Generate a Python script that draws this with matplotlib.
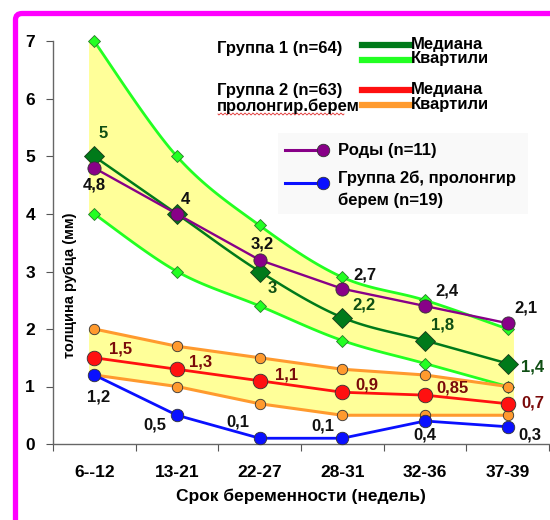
import numpy as np
import matplotlib
matplotlib.use("Agg")
import matplotlib.pyplot as plt
from matplotlib.patches import FancyBboxPatch
from matplotlib.lines import Line2D

plt.rcParams['font.family'] = ['Liberation Sans', 'DejaVu Sans']

categories = ["6--12", "13-21", "22-27", "28-31", "32-36", "37-39"]

g1_median = [5, 4, 3, 2.2, 1.8, 1.4]
g1_q_upper = [7, 5, 3.8, 2.9, 2.5, 2.0]
g1_q_lower = [4, 3, 2.4, 1.8, 1.4, 1.0]

g2_median = [1.5, 1.3, 1.1, 0.9, 0.85, 0.7]
g2_q_upper = [2.0, 1.7, 1.5, 1.3, 1.2, 1.0]
g2_q_lower = [1.2, 1.0, 0.7, 0.5, 0.5, 0.5]

births = [4.8, 4.0, 3.2, 2.7, 2.4, 2.1]
g2b = [1.2, 0.5, 0.1, 0.1, 0.4, 0.3]

yticks = [0, 1, 2, 3, 4, 5, 6, 7]

C_DKGREEN = '#007a1a'
C_LTGREEN = '#22ff22'
C_RED = '#ff1010'
C_ORANGE = '#ff9a2e'
C_PURPLE = '#880088'
C_BLUE = '#0a10ff'
C_FILL = '#ffff99'
C_LBL_GREEN = '#0f4f14'
C_LBL_RED = '#7a0a0a'


def smooth(x, y, n=24):
    """Bezier smoothing through the points (Catmull-Rom control points)."""
    x = np.asarray(x, float)
    y = np.asarray(y, float)
    px = np.concatenate([[x[0]], x, [x[-1]]])
    py = np.concatenate([[y[0]], y, [y[-1]]])
    xs, ys = [], []
    t = np.linspace(0, 1, n)
    for i in range(1, len(px) - 2):
        p0 = np.array([px[i], py[i]])
        p3 = np.array([px[i + 1], py[i + 1]])
        c1 = p0 + (np.array([px[i + 1], py[i + 1]]) - np.array([px[i - 1], py[i - 1]])) / 6
        c2 = p3 - (np.array([px[i + 2], py[i + 2]]) - np.array([px[i], py[i]])) / 6
        b = ((1 - t)[:, None] ** 3) * p0 + 3 * ((1 - t) ** 2 * t)[:, None] * c1 \
            + 3 * ((1 - t) * t ** 2)[:, None] * c2 + (t ** 3)[:, None] * p3
        if i > 1:
            b = b[1:]
        xs.append(b[:, 0])
        ys.append(b[:, 1])
    return np.concatenate(xs), np.concatenate(ys)


def straight(x, y):
    return np.asarray(x, float), np.asarray(y, float)


fig = plt.figure(figsize=(5.5, 5.2), dpi=100)
ax = fig.add_axes([53 / 550, 76 / 520, 496 / 550, 402.5 / 520])

x = np.arange(len(categories))


def band(upper, lower, curve):
    xu, yu = curve(x, upper)
    xl, yl = curve(x, lower)
    ext = 0.07
    xu = np.concatenate([[xu[0] - ext], xu, [xu[-1] + ext]])
    yu = np.concatenate([[yu[0]], yu, [yu[-1]]])
    yl_i = np.interp(xu, np.concatenate([[xl[0] - ext], xl, [xl[-1] + ext]]),
                     np.concatenate([[yl[0]], yl, [yl[-1]]]))
    ax.fill_between(xu, yl_i, yu, color=C_FILL, lw=0, zorder=1)


band(g1_q_upper, g1_q_lower, smooth)
band(g2_q_upper, g2_q_lower, straight)


def series(vals, color, lw, marker, ms, z, curve, mec='#333333'):
    sx, sy = curve(x, vals)
    ax.plot(sx, sy, color=color, lw=lw, zorder=z, solid_capstyle='round', clip_on=False)
    ax.plot(x, vals, ls='none', marker=marker, ms=ms, mfc=color, mec=mec,
            mew=0.6, zorder=z + 0.5, clip_on=False)


series(g1_q_upper, C_LTGREEN, 2.0, 'D', 6.5, 3, smooth, mec='#2a7a2a')
series(g1_q_lower, C_LTGREEN, 2.0, 'D', 6.5, 3, smooth, mec='#2a7a2a')
series(g2_q_upper, C_ORANGE, 2.2, 'o', 7.5, 3, straight)
series(g2_q_lower, C_ORANGE, 2.2, 'o', 7.5, 3, straight)
series(g1_median, C_DKGREEN, 1.8, 'D', 10, 4, smooth, mec='#1a3a1a')
series(g2_median, C_RED, 2.0, 'o', 10.5, 4, straight)
series(births, C_PURPLE, 1.7, 'o', 9.5, 5, straight)
series(g2b, C_BLUE, 2.0, 'o', 9, 5, straight)

# value labels, offsets given in pixels (right, down)
lbl_font = dict(fontsize=12, fontweight='bold', ha='center', va='center', zorder=8)


def vlabel(i, v, text, dx, dy, color):
    ax.annotate(text, (i, v), xytext=(dx * 0.72, -dy * 0.72),
                textcoords='offset points', color=color, **lbl_font)


def fmt(v):
    return f"{v:g}".replace('.', ',')


for i, (dx, dy) in enumerate([(9, -23), (None, None), (13, 17), (22, -12), (18, -15), (25, 3)]):
    if dx is not None:
        vlabel(i, g1_median[i], fmt(g1_median[i]), dx, dy, C_LBL_GREEN)

for i, (dx, dy) in enumerate([(0, 17), (8, -15), (3, -16), (23, -14), (22, -15), (18, -15)]):
    vlabel(i, births[i], fmt(births[i]), dx, dy, '#111111')

for i, (dx, dy) in enumerate([(26, -9), (24, -7), (27, -6), (25, -7), (28, -7), (25, -1)]):
    vlabel(i, g2_median[i], fmt(g2_median[i]), dx, dy, C_LBL_RED)

for i, (dx, dy) in enumerate([(4, 22), (-22, 10), (-22, -16), (-19, -12), (0, 14), (22, 8)]):
    vlabel(i, g2b[i], fmt(g2b[i]), dx, dy, '#111111')

ax.set_xlim(-0.5, len(categories) - 0.5)
ax.set_ylim(0, 7)
ax.set_yticks(yticks)
ax.set_yticklabels([str(t) for t in yticks], fontsize=12.5, fontweight='bold')
ax.set_xticks(np.arange(len(categories) + 1) - 0.5)
ax.set_xticklabels([])
ax.set_xticks(x, minor=True)
ax.set_xticklabels(categories, minor=True, fontsize=12.5, fontweight='bold')
ax.tick_params(axis='x', which='minor', length=0, pad=15)
ax.tick_params(axis='x', which='major', length=5, direction='out', color='#555555')
ax.tick_params(axis='y', length=5, direction='out', color='#555555', pad=8)
for s in ['top', 'right']:
    ax.spines[s].set_visible(False)
for s in ['left', 'bottom']:
    ax.spines[s].set_color('#666666')
    ax.spines[s].set_linewidth(1.0)
ax.patch.set_alpha(0)

ax.set_xlabel("Срок беременности (недель)", fontsize=12.5, fontweight='bold', labelpad=6)
ax.text(17 / 496, 159 / 402.5, "толщина рубца (мм)", transform=ax.transAxes,
        rotation=90, ha='center', va='center', fontsize=10.5, fontweight='bold')

# legend block for group 1 / group 2
T = fig.transFigure


def fx(px):
    return px / 550


def fy(py):
    return 1 - py / 520


hdr = dict(fontsize=12, fontweight='bold', transform=T, va='center', ha='left')
fig.text(fx(217), fy(48), "Группа 1 (n=64)", **hdr)
fig.text(fx(217), fy(90), "Группа 2 (n=63)", **hdr)
fig.text(fx(217), fy(106), "пролонгир.берем", **hdr)
# spell-check squiggle under the abbreviated word
wx = np.linspace(218, 344, 160)
wy = 114 + 1.0 * np.sin((wx - 218) * 2 * np.pi / 4)
fig.add_artist(Line2D(fx(wx), fy(wy), color='#e03030', lw=0.6, transform=T))
for yy, col, lab in [(45, C_DKGREEN, "Медиана"), (60, C_LTGREEN, "Квартили"),
                     (90, C_RED, "Медиана"), (105, C_ORANGE, "Квартили")]:
    fig.add_artist(Line2D([fx(362), fx(410)], [fy(yy), fy(yy)], color=col, lw=4.5,
                          transform=T))
    fig.text(fx(411), fy(yy - 1), lab, **hdr)

# legend block for births / group 2b
fig.add_artist(FancyBboxPatch((fx(278), fy(214)), fx(528) - fx(278), fy(133) - fy(214),
                              boxstyle='square,pad=0', transform=T,
                              fc='#f9f9f9', ec='none', zorder=0.5))
for yy, col in [(150, C_PURPLE), (183, C_BLUE)]:
    fig.add_artist(Line2D([fx(285), fx(323)], [fy(yy), fy(yy)], color=col, lw=2.2,
                          transform=T))
    fig.add_artist(Line2D([fx(323)], [fy(yy)], marker='o', ms=9, mfc=col, mec='#333333',
                          mew=0.6, transform=T))
fig.text(fx(338), fy(150), "Роды (n=11)", **hdr)
fig.text(fx(338), fy(178), "Группа 2б, пролонгир", **hdr)
fig.text(fx(338), fy(200), "берем (n=19)", **hdr)

# frame along the top and left edges
fig.add_artist(FancyBboxPatch((fx(15.5), -0.3), 1.5, fy(13.5) + 0.3,
                              boxstyle='round,pad=0,rounding_size=0.012', transform=T,
                              fill=False, ec='#ff00ff', lw=3.8))

fig.savefig("out.png", dpi=100)
